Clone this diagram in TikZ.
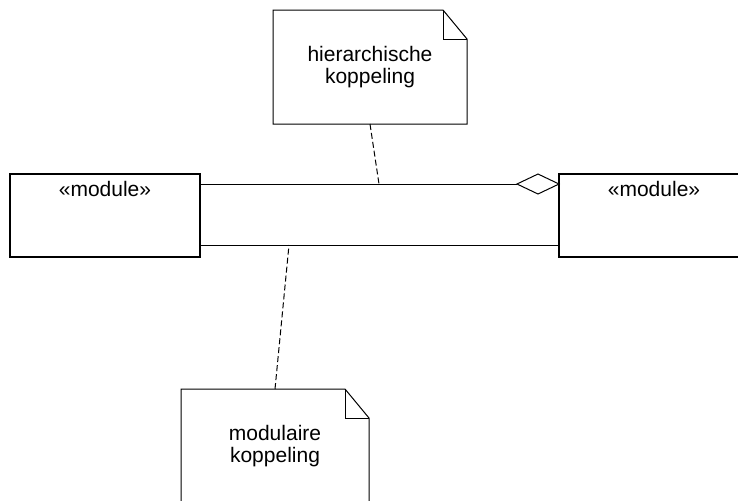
\documentclass[tikz,border=0pt]{standalone}
\usepackage{fontspec}
\setmainfont{Liberation Sans}
\usetikzlibrary{shapes.geometric}

\tikzset{
  module/.style={draw, line width=1pt, minimum width=95pt, minimum height=41.5pt, inner sep=0pt, outer sep=0pt},
  stereo/.style={inner sep=0pt, font=\fontsize{10.5}{11}\selectfont},
  note/.style={align=center, minimum width=97pt, minimum height=57pt, inner sep=0pt, outer sep=0pt, font=\fontsize{10.5}{11.25}\selectfont},
  notefold/.style={line width=0.5pt, line join=miter},
  assoc/.style={line width=0.5pt},
  agg/.style={draw, diamond, aspect=2.1, line width=0.5pt, minimum width=21pt, minimum height=10pt, inner sep=0pt, outer sep=0pt, fill=white},
  anchorline/.style={line width=0.5pt, dash pattern=on 3pt off 1.5pt}
}

\begin{document}
\begin{tikzpicture}[x=0.5pt, y=-0.5pt]
    \useasboundingbox (0, 0) rectangle (738, 500);
    \clip (0, 0) rectangle (738, 500);
    % the two modules
    \node [module] (lm) at (105, 215.5) {};
    \node [module] (rm) at (654, 215.5) {};
    \node [stereo, anchor=base] (lmt) at ([yshift=-11pt]lm.north) {«module»};
    \node [stereo, anchor=base] (rmt) at ([yshift=-11pt]rm.north) {«module»};
    % aggregation and plain association
    \node [agg, anchor=east] (ag) at (rm.west |- 0, 184) {};
    \draw [assoc] (lm.east |- ag.west) -- (ag.west);
    \draw [assoc] (lm.east |- 0, 245) -- (rm.west |- 0, 245);
    % notes
    \node [note] (hk) at (370, 67) {hierarchische\\koppeling};
    \draw [notefold] (hk.north west) -- ([xshift=-12pt]hk.north east) -- ([yshift=-14.5pt]hk.north east) -- (hk.south east) -- (hk.south west) -- cycle;
    \draw [notefold] ([xshift=-12pt]hk.north east) |- ([yshift=-14.5pt]hk.north east);
    \node [note, minimum width=94pt] (mk) at (275, 446) {modulaire\\koppeling};
    \draw [notefold] (mk.north west) -- ([xshift=-12pt]mk.north east) -- ([yshift=-14.5pt]mk.north east) -- (mk.south east) -- (mk.south west) -- cycle;
    \draw [notefold] ([xshift=-12pt]mk.north east) |- ([yshift=-14.5pt]mk.north east);
    % note anchors
    \coordinate (hkend) at (379, 184);
    \coordinate (mkend) at (289, 245);
    \draw [anchorline] (hk.south) -- (hkend);
    \draw [anchorline] (mk.north) -- (mkend);
\end{tikzpicture}
\end{document}
